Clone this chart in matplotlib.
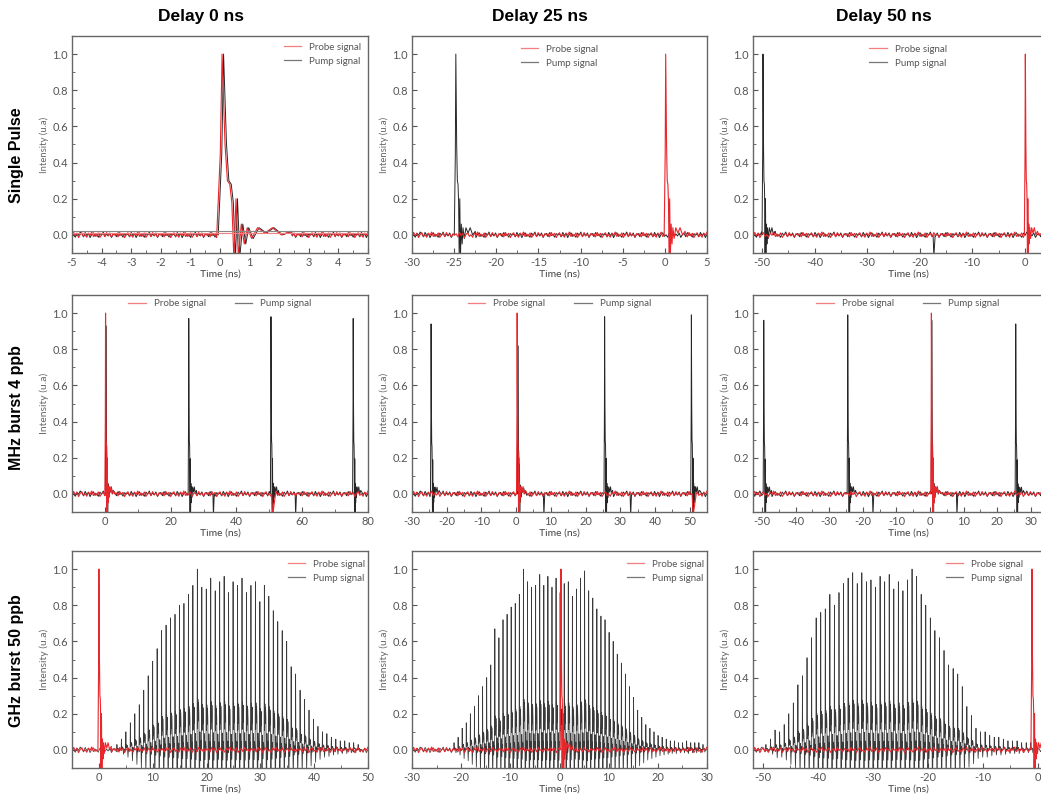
import numpy as np
import matplotlib.pyplot as plt
from matplotlib.lines import Line2D
from matplotlib.ticker import MultipleLocator, FormatStrFormatter

plt.rcParams['font.family'] = ['Lato', 'DejaVu Sans']

delays = ['Delay 0 ns', 'Delay 25 ns', 'Delay 50 ns']
modes = ['Single Pulse', 'MHz burst 4 ppb', 'GHz burst 50 ppb']

# time window of every panel (ns), row by row
xlims = [[(-5, 5), (-30, 5), (-51.7, 4.6)],
         [(-10, 80), (-30, 55), (-52.7, 35.4)],
         [(-5, 50), (-30, 30), (-51.8, 2.0)]]
xmajor = [[1, 5, 10], [20, 10, 10], [10, 10, 10]]

# baseline ripple of the scope traces (u.a)
ripple = [0.006, -0.011, 0.014, -0.004, 0.009, -0.015, 0.003, 0.012, -0.008, 0.001,
          -0.013, 0.010, -0.002, 0.016, -0.009, 0.005, -0.006, 0.011, -0.014, 0.002,
          0.008, -0.010, 0.013, -0.003, 0.004, -0.012, 0.007, -0.001]

# shape of one photodiode pulse (ns from peak, relative intensity)
pulse_dt = [-0.18, -0.06, 0.0, 0.1, 0.18, 0.26, 0.33, 0.40, 0.47, 0.55, 0.65,
            0.75, 0.85, 1.0, 1.2, 1.45, 1.7, 2.0, 2.3]
pulse_amp = [0.0, 0.45, 1.0, 0.5, 0.3, 0.28, 0.18, -0.14, 0.2, -0.12, 0.06,
             -0.05, 0.04, -0.02, 0.04, 0.01, 0.04, 0.0, 0.02]

# shape of one GHz sub-pulse
sub_dt = [0.0, 0.05, 0.10, 0.16, 0.22, 0.28, 0.34, 0.44, 0.54, 0.64, 0.74]
sub_amp = [0.0, 1.0, 0.12, 0.28, 0.16, 0.26, 0.2, -0.4, 0.1, -0.06, 0.05]

# short negative glitches of the pump diode
dip_dt = [-0.15, 0.0, 0.25]
dip_amp = [0.0, 1.0, 0.0]
dip_depth = -0.12

# row 1 : single pulse
sp_probe_t = [0.07, 0.1, 0.1]
sp_pump_t = [0.12, -24.8, -49.8]
sp_pump_dips = [[], [], [-17.3]]
sp_levels = [0.024, 0.011]   # flat reference lines, delay 0 ns panel

# row 2 : MHz burst
mhz_probe_t = [0.2, 0.3, 0.4]
mhz_pump_t = [[0.3, 25.5, 50.5, 75.5], [-24.5, 0.5, 25.5, 50.5], [-49.5, -24.5, 0.5, 25.5]]
mhz_pump_pk = [[0.93, 0.97, 0.98, 0.97], [0.94, 0.82, 0.98, 0.99], [0.96, 0.99, 0.96, 0.94]]
mhz_pump_dips = [[33, 58], [8, 33], [-17, 8]]
mhz_probe_dips = [[51], [51], []]

# row 3 : GHz burst, peak of every sub-pulse
ghz_probe_t = [0.0, 0.3, -1.1]
ghz_start = [3.3, -21.5, -49.5]
ghz_period = 0.83
ghz_env0 = [0.03, 0.06, 0.10, 0.15, 0.20, 0.25, 0.33, 0.41, 0.49, 0.56, 0.66, 0.69,
            0.73, 0.75, 0.80, 0.81, 0.86, 0.91, 1.00, 0.90, 0.89, 0.95, 0.88, 0.93,
            0.96, 0.87, 0.93, 0.91, 0.95, 0.87, 0.91, 0.93, 0.82, 0.91, 0.85, 0.77,
            0.71, 0.66, 0.60, 0.46, 0.42, 0.33, 0.28, 0.22, 0.17, 0.13, 0.10, 0.09,
            0.07, 0.06, 0.05, 0.05, 0.04, 0.04, 0.03]
ghz_env25 = [0.04, 0.07, 0.12, 0.15, 0.20, 0.24, 0.30, 0.35, 0.40, 0.47, 0.67, 0.62,
             0.72, 0.75, 0.79, 0.81, 0.86, 1.00, 0.93, 0.90, 0.91, 0.97, 0.91, 0.96,
             0.90, 0.95, 0.87, 0.92, 0.93, 0.85, 0.89, 0.95, 0.99, 0.88, 0.84, 0.78,
             0.74, 0.72, 0.65, 0.60, 0.53, 0.48, 0.42, 0.35, 0.29, 0.22, 0.18, 0.14,
             0.12, 0.10, 0.08, 0.07, 0.06, 0.05, 0.05, 0.04, 0.04, 0.05, 0.04, 0.04,
             0.04, 0.03]
ghz_env50 = [0.03, 0.06, 0.11, 0.10, 0.14, 0.20, 0.26, 0.36, 0.41, 0.51, 0.62, 0.73,
             0.76, 0.78, 0.86, 0.80, 0.87, 0.92, 0.95, 0.98, 0.92, 0.98, 0.93, 0.94,
             0.90, 0.96, 0.93, 0.97, 0.89, 0.93, 0.88, 0.94, 1.00, 0.96, 0.86, 0.80,
             0.73, 0.66, 0.62, 0.55, 0.47, 0.45, 0.42, 0.35, 0.24, 0.19, 0.12, 0.10,
             0.10, 0.08, 0.07, 0.07, 0.06, 0.05, 0.05, 0.05, 0.04, 0.04, 0.04]
ghz_envs = [ghz_env0, ghz_env25, ghz_env50]

RED = '#e8272c'
BLACK = '#262626'
GREY = '#555555'


def trace(xlim, events, shift=0):
    """scope trace: rippled baseline plus the listed pulse shapes"""
    t0, t1 = xlim
    step = (t1 - t0) / 180
    bt = np.arange(t0 - step, t1 + step, step)
    by = np.roll(np.resize(ripple, bt.size), shift)
    keep = np.ones(bt.size, bool)
    for tc, sc, dts, amps in events:
        keep &= ~((bt > tc + dts[0]) & (bt < tc + dts[-1]))
    ts, ys = [bt[keep]], [by[keep]]
    for tc, sc, dts, amps in events:
        ts.append(tc + np.array(dts))
        ys.append(sc * np.array(amps))
    t = np.concatenate(ts)
    y = np.concatenate(ys)
    o = np.argsort(t, kind='stable')
    return t[o], y[o]


fig = plt.figure(figsize=(10.41, 8.0), dpi=100)
W, H = 1041.0, 800.0
col_left = [72, 412, 753]
col_w = [296, 295, 310]
row_top = [36, 295, 551]
ax_h = 217

# legend keys are drawn lighter than the traces, as in the scope software
leg_handles = [Line2D([], [], color='#f47f7f', lw=0.9),
               Line2D([], [], color='#777777', lw=0.9)]
leg_labels = ['Probe signal', 'Pump signal']
leg_kw = dict(fontsize=7, frameon=False, handlelength=1.8, labelcolor='#555555')

for r in range(3):
    for c in range(3):
        ax = fig.add_axes([col_left[c] / W, 1 - (row_top[r] + ax_h) / H, col_w[c] / W, ax_h / H])
        xl = xlims[r][c]
        if c == 2:
            # this column is cut by the right edge of the picture
            xl = (xl[0], xl[0] + (xl[1] - xl[0]) * col_w[c] / 296)

        if r == 0:
            pump_ev = [(sp_pump_t[c], 1.0, pulse_dt, pulse_amp)]
            pump_ev += [(d, dip_depth, dip_dt, dip_amp) for d in sp_pump_dips[c]]
            probe_ev = [(sp_probe_t[c], 1.0, pulse_dt, pulse_amp)]
        elif r == 1:
            pump_ev = [(t, p, pulse_dt, pulse_amp) for t, p in zip(mhz_pump_t[c], mhz_pump_pk[c])]
            pump_ev += [(d, dip_depth, dip_dt, dip_amp) for d in mhz_pump_dips[c]]
            probe_ev = [(mhz_probe_t[c], 1.0, pulse_dt, pulse_amp)]
            probe_ev += [(d, dip_depth, [-0.3, 0.0, 0.9], dip_amp) for d in mhz_probe_dips[c]]
        else:
            env = ghz_envs[c]
            pump_ev = [(ghz_start[c] + i * ghz_period, e, sub_dt, sub_amp) for i, e in enumerate(env)]
            probe_ev = [(ghz_probe_t[c], 1.0, pulse_dt, pulse_amp)]

        tp, yp = trace(xl, pump_ev, shift=7)
        tr, yr = trace(xl, probe_ev, shift=0)
        if r == 2:
            ax.plot(tp, yp, color='#3a3a3a', lw=0.55)
        else:
            ax.plot(tp, yp, color=BLACK, lw=0.7)
        ax.plot(tr, yr, color=RED, lw=0.8)

        if r == 0 and c == 0:
            ax.axhline(sp_levels[0], color='#888888', lw=0.8)
            ax.axhline(sp_levels[1], color='#f08080', lw=0.8)

        ax.set_xlim(*xl)
        ax.set_ylim(-0.1, 1.1)
        ax.xaxis.set_major_locator(MultipleLocator(xmajor[r][c]))
        ax.xaxis.set_minor_locator(MultipleLocator(xmajor[r][c] / 2))
        ax.yaxis.set_major_locator(MultipleLocator(0.2))
        ax.yaxis.set_minor_locator(MultipleLocator(0.1))
        ax.yaxis.set_major_formatter(FormatStrFormatter('%.1f'))
        ax.xaxis.set_major_formatter(FormatStrFormatter('%g'))
        ax.tick_params(which='both', direction='in', colors=GREY, labelsize=8,
                       top=False, right=False, pad=3)
        ax.tick_params(which='major', length=3.5, width=0.8)
        ax.tick_params(which='minor', length=2, width=0.6)
        for s in ax.spines.values():
            s.set_color('#666666')
            s.set_linewidth(1.0)

        ax.set_ylabel('Intensity (u.a)', fontsize=6.8 if r == 0 else 7.5, color='#666666', labelpad=2)
        ax.set_xlabel('Time (ns)', fontsize=7.5, color='#444444', labelpad=1)

        if r == 0 and c == 0:
            ax.legend(leg_handles, leg_labels, loc='upper right', borderaxespad=0.3, **leg_kw)
        elif r == 0:
            ax.legend(leg_handles, leg_labels, loc='upper center', bbox_to_anchor=(0.5, 1.0), **leg_kw)
        elif r == 1:
            ax.legend(leg_handles, leg_labels, loc='upper center', bbox_to_anchor=(0.5, 1.02),
                      ncol=2, columnspacing=3.0, **leg_kw)
        else:
            ax.legend(leg_handles, leg_labels, loc='upper right',
                      bbox_to_anchor=(0.9 if c == 2 else 1.02, 1.0), **leg_kw)

        if r == 0:
            fig.text([201, 540, 884][c] / W, 1 - 17 / H, delays[c], ha='center', va='center',
                     fontsize=12.5, fontweight='bold', family='Liberation Sans')
    fig.text(17 / W, 1 - [155, 408, 661][r] / H, modes[r], rotation=90, ha='center',
             va='center', fontsize=11.5, fontweight='bold', family='Liberation Sans')

fig.savefig('out.png', dpi=100)
